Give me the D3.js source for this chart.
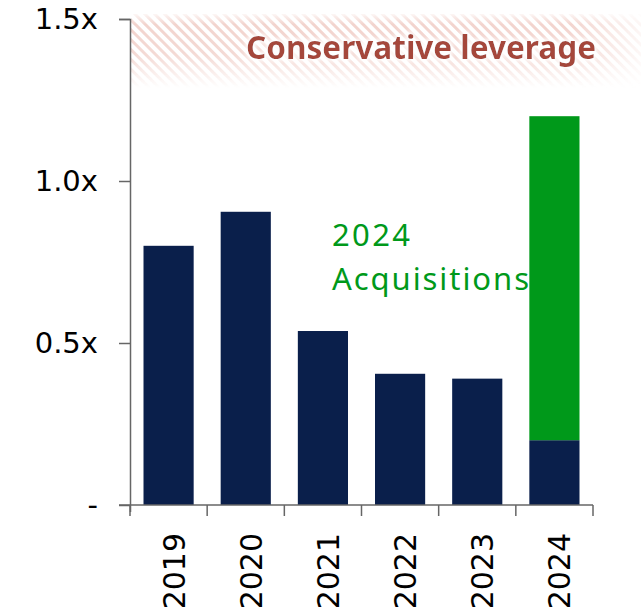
<!DOCTYPE html>
<html lang="en">
<head>
<meta charset="UTF-8">
<title>Leverage</title>
<style>
  body { margin: 0; background: #fff; }
</style>
</head>
<body>
<svg id="svgId"></svg>
<script src="https://cdnjs.cloudflare.com/ajax/libs/d3/7.8.5/d3.min.js"></script>
<script>

    // data
    const years = ['2019', '2020', '2021', '2022', '2023', '2024']
    const baseValues = [0.80, 0.905, 0.537, 0.405, 0.39, 0.20]
    const acquisitionValues = [0, 0, 0, 0, 0, 1.00]
    const yTicks = [0, 0.5, 1.0, 1.5]
    const yTickLabels = ['-', '0.5x', '1.0x', '1.5x']

    const svgWidth = 641, svgHeight = 607
    const navy = '#0a1f4b', green = '#00991a', axisColor = '#666'
    const labelFont = 'DejaVu Sans, Verdana, sans-serif'

    const svg = d3.select('#svgId')
        .attr('width', svgWidth)
        .attr('height', svgHeight)

    const xScale = d3.scaleBand().domain(years).range([130, 593]).paddingInner(0.35).paddingOuter(0.175)
    const yScale = d3.scaleLinear().domain([0, 1.5]).range([505, 19])

    // hatched banner at the top
    const defs = svg.append('defs')
    const pat = defs.append('pattern')
        .attr('id', 'hatch')
        .attr('patternUnits', 'userSpaceOnUse')
        .attr('width', 7).attr('height', 7)
        .attr('patternTransform', 'rotate(-45)')
    pat.append('rect').attr('width', 3).attr('height', 7).attr('fill', '#eec5bd')

    const grad = defs.append('linearGradient').attr('id', 'fadeY').attr('x1', 0).attr('y1', 0).attr('x2', 0).attr('y2', 1)
    grad.append('stop').attr('offset', '0%').attr('stop-color', '#fff').attr('stop-opacity', 0.2)
    grad.append('stop').attr('offset', '14%').attr('stop-color', '#fff').attr('stop-opacity', 1)
    grad.append('stop').attr('offset', '55%').attr('stop-color', '#fff').attr('stop-opacity', 0.85)
    grad.append('stop').attr('offset', '100%').attr('stop-color', '#fff').attr('stop-opacity', 0)
    const gradX = defs.append('linearGradient').attr('id', 'fadeX').attr('x1', 0).attr('y1', 0).attr('x2', 1).attr('y2', 0)
    gradX.append('stop').attr('offset', '0%').attr('stop-color', '#fff').attr('stop-opacity', 1)
    gradX.append('stop').attr('offset', '86%').attr('stop-color', '#fff').attr('stop-opacity', 1)
    gradX.append('stop').attr('offset', '100%').attr('stop-color', '#fff').attr('stop-opacity', 0.2)
    const maskX = defs.append('mask').attr('id', 'maskX')
    maskX.append('rect').attr('x', 131).attr('y', 14).attr('width', 510).attr('height', 74).attr('fill', 'url(#fadeX)')
    const maskY = defs.append('mask').attr('id', 'maskY')
    maskY.append('rect').attr('x', 131).attr('y', 14).attr('width', 510).attr('height', 74).attr('fill', 'url(#fadeY)')

    // white halo behind title
    const halo = defs.append('filter').attr('id', 'halo').attr('x', '-10%').attr('y', '-40%').attr('width', '120%').attr('height', '180%')
    halo.append('feMorphology').attr('in', 'SourceAlpha').attr('operator', 'dilate').attr('radius', 2).attr('result', 'd')
    halo.append('feGaussianBlur').attr('in', 'd').attr('stdDeviation', 2).attr('result', 'b')
    halo.append('feFlood').attr('flood-color', '#fff')
    halo.append('feComposite').attr('in2', 'b').attr('operator', 'in').attr('result', 'w')
    const merge = halo.append('feMerge')
    merge.append('feMergeNode').attr('in', 'w')
    merge.append('feMergeNode').attr('in', 'SourceGraphic')

    svg.append('g').attr('mask', 'url(#maskX)')
        .append('rect')
        .attr('x', 131).attr('y', 14)
        .attr('width', 510).attr('height', 74)
        .attr('fill', 'url(#hatch)')
        .attr('mask', 'url(#maskY)')
        .attr('opacity', 0.75)

    // title: grow the font until the text spans the same width as in the reference
    const title = svg.append('text')
        .attr('x', 246)
        .attr('y', 59)
        .attr('fill', '#a5463b')
        .attr('filter', 'url(#halo)')
        .style('font-family', 'Noto Sans, sans-serif')
        .style('font-weight', 'bold')
        .style('font-size', '30px')
        .text('Conservative leverage')
    const natural = title.node().getComputedTextLength()
    const titleSize = Math.min(32, 30 * 350 / natural)
    title.style('font-size', titleSize + 'px')
        .attr('textLength', 350)
        .attr('lengthAdjust', 'spacing')

    // bars
    svg.selectAll('.base')
        .data(years).enter()
        .append('rect')
        .attr('class', 'base')
        .attr('x', d => xScale(d))
        .attr('width', xScale.bandwidth())
        .attr('y', (d, i) => yScale(baseValues[i]))
        .attr('height', (d, i) => yScale(0) - yScale(baseValues[i]))
        .attr('fill', navy)

    svg.selectAll('.acq')
        .data(years.filter((d, i) => acquisitionValues[i] > 0)).enter()
        .append('rect')
        .attr('class', 'acq')
        .attr('x', d => xScale(d))
        .attr('width', xScale.bandwidth())
        .attr('y', d => { const i = years.indexOf(d); return yScale(baseValues[i] + acquisitionValues[i]) })
        .attr('height', d => { const i = years.indexOf(d); return yScale(0) - yScale(acquisitionValues[i]) })
        .attr('fill', green)

    // annotation
    const note = svg.append('text')
        .attr('fill', green)
        .style('font-family', 'Noto Sans, sans-serif')
        .style('font-size', '31px')
    note.append('tspan').attr('x', 332).attr('y', 246).attr('textLength', 78).attr('lengthAdjust', 'spacing').text('2024')
    note.append('tspan').attr('x', 332).attr('y', 290).attr('textLength', 197).attr('lengthAdjust', 'spacing').text('Acquisitions')

    // y axis
    const yAxis = svg.append('g')
        .attr('transform', 'translate(130,0)')
        .call(d3.axisLeft(yScale).tickValues(yTicks).tickSize(11).tickPadding(21)
            .tickFormat((d, i) => yTickLabels[i]))
    yAxis.select('.domain').attr('d', 'M-11,19.5H0.5V512')
    yAxis.selectAll('line').attr('stroke', axisColor).attr('stroke-width', 1.5)
    yAxis.select('.domain').attr('stroke', axisColor).attr('stroke-width', 1.5).attr('fill', 'none')
    yAxis.selectAll('text')
        .attr('fill', '#000')
        .style('font-family', labelFont)
        .style('font-size', '29px')

    // x axis: ticks at band edges
    const xAxis = svg.append('g')
    xAxis.append('line')
        .attr('x1', 119).attr('x2', 593)
        .attr('y1', 505).attr('y2', 505)
        .attr('stroke', axisColor).attr('stroke-width', 1.5)
    const edges = years.map(d => xScale(d) - xScale.step() * xScale.paddingInner() / 2).concat([593])
    xAxis.selectAll('.xtick')
        .data(edges).enter()
        .append('line')
        .attr('x1', d => d).attr('x2', d => d)
        .attr('y1', 505).attr('y2', 516)
        .attr('stroke', axisColor).attr('stroke-width', 1.5)
    xAxis.selectAll('.xlabel')
        .data(years).enter()
        .append('text')
        .attr('transform', d => `translate(${xScale(d) + xScale.bandwidth() / 2 + 16}, 533) rotate(-90)`)
        .attr('text-anchor', 'end')
        .attr('fill', '#000')
        .style('font-family', labelFont)
        .style('font-size', '30px')
        .text(d => d)

</script>
</body>
</html>
